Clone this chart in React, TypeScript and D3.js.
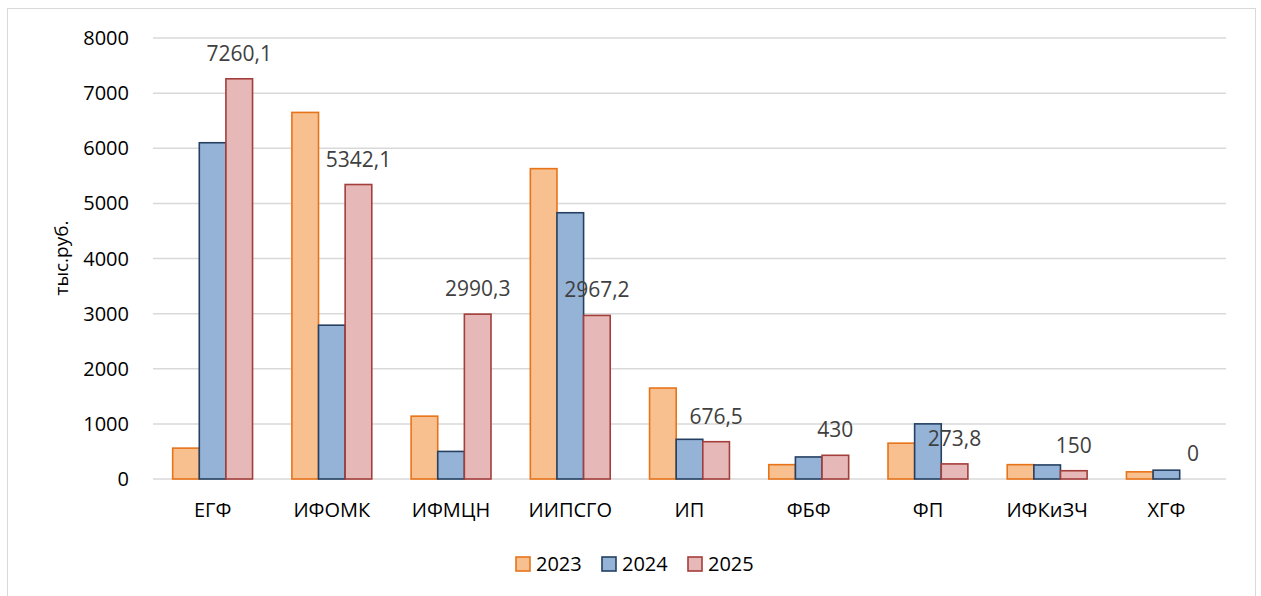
import React, { useEffect, useRef } from 'react';
import * as d3 from 'd3';

const categories = ['ЕГФ', 'ИФОМК', 'ИФМЦН', 'ИИПСГО', 'ИП', 'ФБФ', 'ФП', 'ИФКиЗЧ', 'ХГФ'];
const years = ['2023', '2024', '2025'];
const values2023 = [560, 6650, 1140, 5630, 1650, 260, 650, 260, 130];
const values2024 = [6100, 2790, 500, 4830, 720, 400, 1000, 255, 160];
const values2025 = [7260.1, 5342.1, 2990.3, 2967.2, 676.5, 430, 273.8, 150, 0];
const yTicks = [0, 1000, 2000, 3000, 4000, 5000, 6000, 7000, 8000];

const fills = ['#F8BF8F', '#95B3D7', '#E6B9B8'];
const strokes = ['#E8741A', '#254061', '#A33E3B'];
const font = "'Open Sans', 'Noto Sans', sans-serif";

const App = () => {
  const ref = useRef<SVGSVGElement>(null);

  useEffect(() => {
    const svg = d3.select(ref.current);
    svg.selectAll('*').remove();

    const series = [values2023, values2024, values2025];
    const left = 153, right = 1226, top = 38, bottom = 479;

    const x = d3.scaleBand().domain(categories).range([left, right]).paddingInner(0.33).paddingOuter(0.165);
    const xs = d3.scaleBand().domain(years).range([0, x.bandwidth()]);
    const y = d3.scaleLinear().domain([0, 8000]).range([bottom, top]);

    // chart frame
    svg.append('rect')
      .attr('x', 7.5).attr('y', 8.5).attr('width', 1248).attr('height', 620)
      .attr('fill', 'white').attr('stroke', '#D9D9D9').attr('stroke-width', 1);

    // grid
    svg.append('g').selectAll('line').data(yTicks).enter().append('line')
      .attr('x1', left).attr('x2', right)
      .attr('y1', (d) => y(d)).attr('y2', (d) => y(d))
      .attr('stroke', '#D9D9D9').attr('stroke-width', 1.5);

    svg.append('g').selectAll('text').data(yTicks).enter().append('text')
      .attr('x', 129).attr('y', (d) => y(d)).attr('dy', '0.35em')
      .attr('text-anchor', 'end').attr('font-family', font).attr('font-size', 20).attr('fill', '#000')
      .text((d) => d);

    svg.append('text')
      .attr('transform', 'translate(68,258) rotate(-90)')
      .attr('text-anchor', 'middle').attr('font-family', font).attr('font-size', 19).attr('fill', '#000')
      .text('тыс.руб.');

    // bars
    series.forEach((vals, si) => {
      svg.append('g').selectAll('rect').data(vals).enter().append('rect')
        .attr('x', (_, i) => (x(categories[i]) as number) + (xs(years[si]) as number))
        .attr('y', (d) => y(d))
        .attr('width', xs.bandwidth())
        .attr('height', (d) => bottom - y(d))
        .attr('fill', fills[si]).attr('stroke', d => d > 0 ? strokes[si] : 'none').attr('stroke-width', 1.6);
    });

    // data labels for 2025
    svg.append('g').selectAll('text').data(values2025).enter().append('text')
      .attr('x', (_, i) => (x(categories[i]) as number) + (xs('2025') as number) + xs.bandwidth() / 2)
      .attr('y', (d) => y(d) - 18)
      .attr('text-anchor', 'middle').attr('font-family', font).attr('font-size', 21).attr('fill', '#404040')
      .text((d) => String(d).replace('.', ','));

    // category labels
    svg.append('g').selectAll('text').data(categories).enter().append('text')
      .attr('x', (d) => (x(d) as number) + x.bandwidth() / 2)
      .attr('y', 517)
      .attr('text-anchor', 'middle').attr('font-family', font).attr('font-size', 20).attr('fill', '#000')
      .text((d) => d);

    // legend
    const legendX = [516, 602, 688];
    years.forEach((yr, i) => {
      svg.append('rect')
        .attr('x', legendX[i]).attr('y', 557).attr('width', 14).attr('height', 14)
        .attr('fill', fills[i]).attr('stroke', strokes[i]).attr('stroke-width', 1.6);
      svg.append('text')
        .attr('x', legendX[i] + 20).attr('y', 564).attr('dy', '0.35em')
        .attr('font-family', font).attr('font-size', 20).attr('fill', '#000')
        .text(yr);
    });
  }, []);

  return (
    <svg ref={ref} width={1261} height={596}
      style={{ position: 'absolute', left: 0, top: 0, display: 'block', background: 'white' }} />
  );
};

export default App;
